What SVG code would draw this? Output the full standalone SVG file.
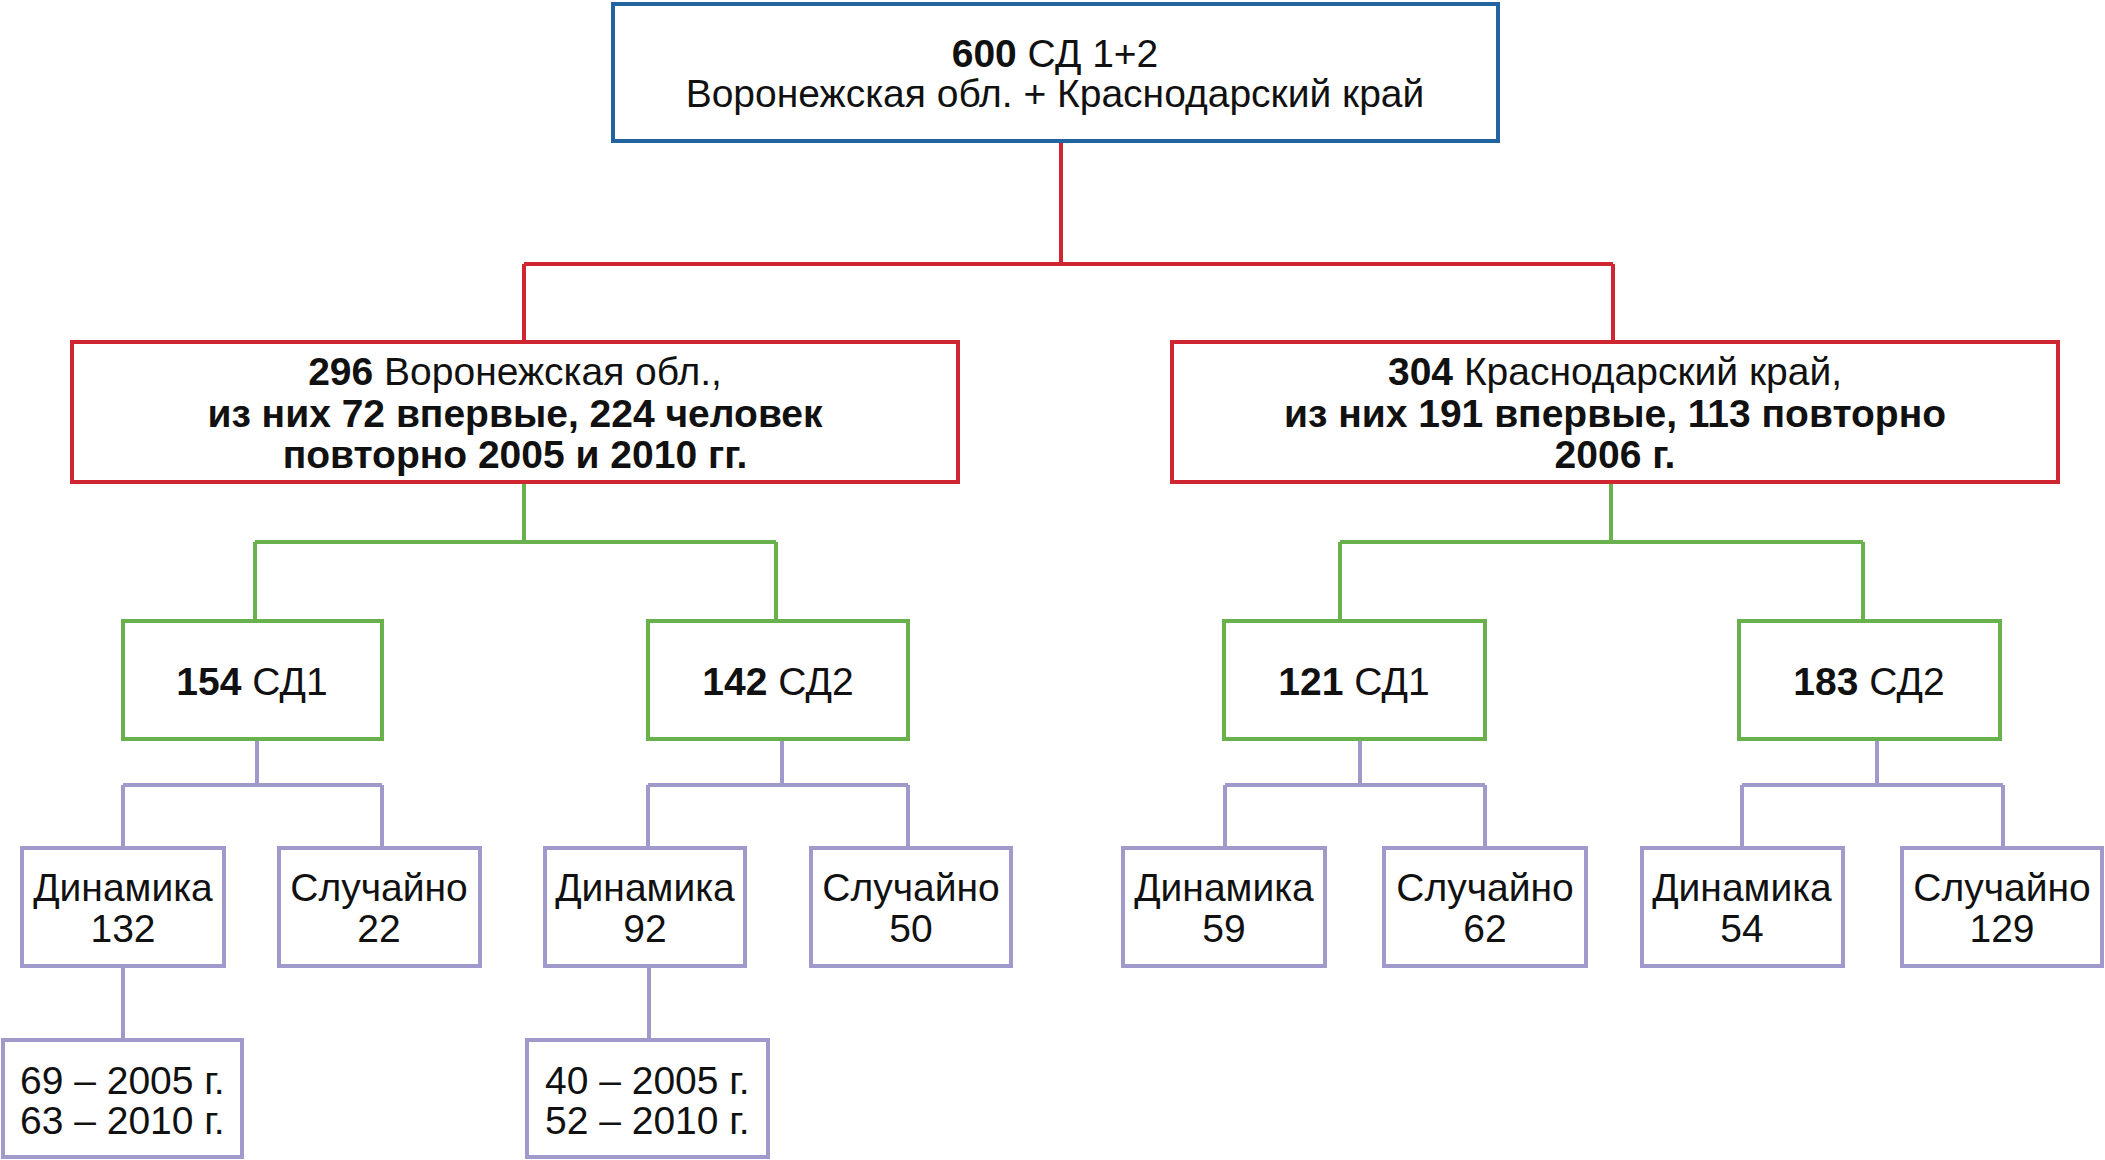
<svg xmlns="http://www.w3.org/2000/svg" width="2105" height="1160" viewBox="0 0 2105 1160">
<style>
.box{fill:#ffffff;stroke-width:4}
.blue{stroke:#2363a0}
.red{stroke:#cf2631}
.green{stroke:#69b14d}
.purple{stroke:#a099cc}
.t{font-family:"Liberation Sans",Arial,sans-serif;font-size:39px;fill:#111111;text-anchor:middle}
.s{text-anchor:start}
.b{font-weight:bold}
.conn path{fill:none;stroke-width:4}
</style>
<rect width="2105" height="1160" fill="#ffffff"/>
<g id="connectors" class="conn">
<path class="red" d="M1061 142V264M524 264H1613M524 264V342M1613 264V342"/>
<path class="green" d="M524 482V542M255 542H776M255 542V621M776 542V621"/>
<path class="green" d="M1611 482V542M1340 542H1863M1340 542V621M1863 542V621"/>
<path class="purple" d="M257 739V785M123 785H382M123 785V848M382 785V848"/>
<path class="purple" d="M782 739V785M648 785H908M648 785V848M908 785V848"/>
<path class="purple" d="M1360 739V785M1225 785H1485M1225 785V848M1485 785V848"/>
<path class="purple" d="M1877 739V785M1742 785H2003M1742 785V848M2003 785V848"/>
<path class="purple" d="M123 966V1040M649 966V1040"/>
</g>
<g id="root">
<rect class="box blue" x="613" y="4" width="885" height="137"/>
<text class="t" x="1055" y="67"><tspan class="b">600</tspan> СД 1+2</text>
<text class="t" x="1055" y="107">Воронежская обл. + Краснодарский край</text>
</g>
<g id="voronezh">
<rect class="box red" x="72" y="342" width="886" height="140"/>
<text class="t" x="515" y="385"><tspan class="b">296</tspan> Воронежская обл.,</text>
<text class="t b" x="515" y="427">из них 72 впервые, 224 человек</text>
<text class="t b" x="515" y="468">повторно 2005 и 2010 гг.</text>
</g>
<g id="krasnodar">
<rect class="box red" x="1172" y="342" width="886" height="140"/>
<text class="t" x="1615" y="385"><tspan class="b">304</tspan> Краснодарский край,</text>
<text class="t b" x="1615" y="427">из них 191 впервые, 113 повторно</text>
<text class="t b" x="1615" y="468">2006 г.</text>
</g>
<g id="v-sd1">
<rect class="box green" x="123" y="621" width="259" height="118"/>
<text class="t" x="252" y="695"><tspan class="b">154</tspan> СД1</text>
</g>
<g id="v-sd2">
<rect class="box green" x="648" y="621" width="260" height="118"/>
<text class="t" x="778" y="695"><tspan class="b">142</tspan> СД2</text>
</g>
<g id="k-sd1">
<rect class="box green" x="1224" y="621" width="261" height="118"/>
<text class="t" x="1354" y="695"><tspan class="b">121</tspan> СД1</text>
</g>
<g id="k-sd2">
<rect class="box green" x="1739" y="621" width="261" height="118"/>
<text class="t" x="1869" y="695"><tspan class="b">183</tspan> СД2</text>
</g>
<g id="v1-dyn">
<rect class="box purple" x="22" y="848" width="202" height="118"/>
<text class="t" x="123" y="901">Динамика</text>
<text class="t" x="123" y="942">132</text>
</g>
<g id="v1-rnd">
<rect class="box purple" x="279" y="848" width="201" height="118"/>
<text class="t" x="379" y="901">Случайно</text>
<text class="t" x="379" y="942">22</text>
</g>
<g id="v2-dyn">
<rect class="box purple" x="545" y="848" width="200" height="118"/>
<text class="t" x="645" y="901">Динамика</text>
<text class="t" x="645" y="942">92</text>
</g>
<g id="v2-rnd">
<rect class="box purple" x="811" y="848" width="200" height="118"/>
<text class="t" x="911" y="901">Случайно</text>
<text class="t" x="911" y="942">50</text>
</g>
<g id="k1-dyn">
<rect class="box purple" x="1123" y="848" width="202" height="118"/>
<text class="t" x="1224" y="901">Динамика</text>
<text class="t" x="1224" y="942">59</text>
</g>
<g id="k1-rnd">
<rect class="box purple" x="1384" y="848" width="202" height="118"/>
<text class="t" x="1485" y="901">Случайно</text>
<text class="t" x="1485" y="942">62</text>
</g>
<g id="k2-dyn">
<rect class="box purple" x="1642" y="848" width="201" height="118"/>
<text class="t" x="1742" y="901">Динамика</text>
<text class="t" x="1742" y="942">54</text>
</g>
<g id="k2-rnd">
<rect class="box purple" x="1902" y="848" width="200" height="118"/>
<text class="t" x="2002" y="901">Случайно</text>
<text class="t" x="2002" y="942">129</text>
</g>
<g id="v1-years">
<rect class="box purple" x="3" y="1040" width="239" height="117"/>
<text class="t s" x="20" y="1094">69 – 2005 г.</text>
<text class="t s" x="20" y="1134">63 – 2010 г.</text>
</g>
<g id="v2-years">
<rect class="box purple" x="527" y="1040" width="241" height="117"/>
<text class="t s" x="545" y="1094">40 – 2005 г.</text>
<text class="t s" x="545" y="1134">52 – 2010 г.</text>
</g>
</svg>
